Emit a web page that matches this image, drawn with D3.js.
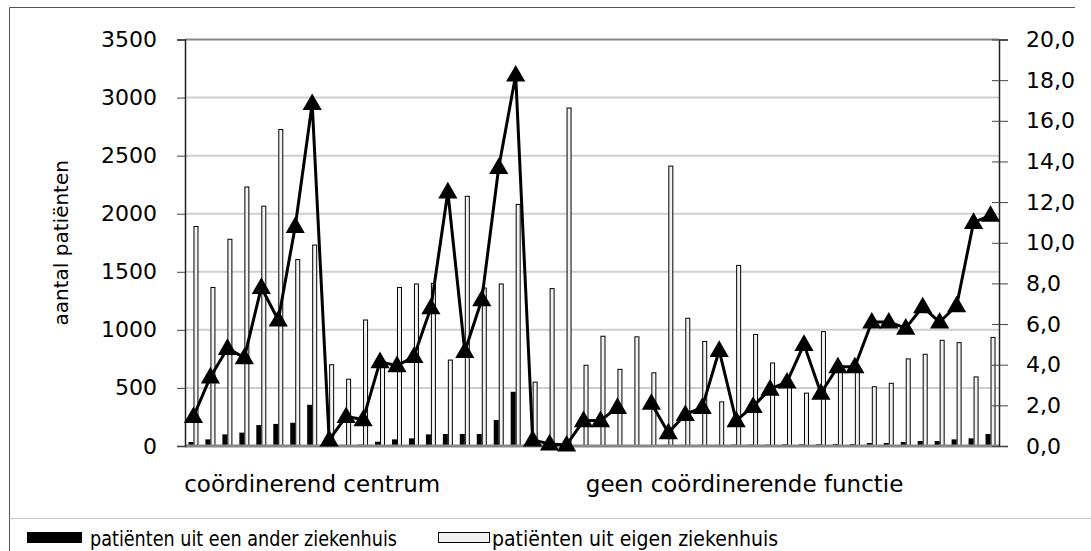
<!DOCTYPE html>
<html>
<head>
<meta charset="utf-8">
<script src="https://cdn.jsdelivr.net/npm/d3@7"></script>
<style>
  body { margin: 0; background: #fff; }
  text { font-family: "DejaVu Sans", Verdana, sans-serif; fill: #000; }
</style>
</head>
<body>
<div id="chart"></div>
<script>
// patiënten uit een ander ziekenhuis (black bars)
var ander = [34, 57, 100, 115, 180, 190, 200, 355, 5, 10, 12, 37, 57, 66, 100, 103,
  103, 103, 224, 467, 5, 3, 3, 5, 5, 8, 8, 8, 10, 10, 10, 10,
  12, 12, 12, 14, 14, 15, 17, 17, 26, 26, 34, 43, 43, 57, 66, 103];
// patiënten uit eigen ziekenhuis (white bars)
var eigen = [1890, 1365, 1780, 2230, 2065, 2725, 1605, 1730, 700, 575, 1085, 730, 1365, 1395, 1400, 740,
  2150, 1360, 1395, 2080, 550, 1355, 2910, 695, 945, 660, 940, 630, 2410, 1100, 900, 380,
  1555, 960, 715, 520, 455, 985, 680, 680, 510, 540, 750, 790, 910, 890, 595, 935];
// right axis series (triangles), null = no value
var pct = [1.45, 3.4, 4.8, 4.35, 7.8, 6.2, 10.8, 16.85, 0.3, 1.45, 1.3, 4.15, 3.95, 4.4, 6.8, 12.5,
  4.65, 7.2, 13.7, 18.25, 0.3, 0.1, 0.05, 1.25, 1.25, 1.9, null, 2.1, 0.65, 1.55, 1.9, 4.7,
  1.25, 1.95, 2.8, 3.15, 5.0, 2.6, 3.9, 3.9, 6.1, 6.1, 5.8, 6.85, 6.1, 6.9, 11.0, 11.35];

var seriesNames = ["patiënten uit een ander ziekenhuis", "patiënten uit eigen ziekenhuis"];
var groupLabels = ["coördinerend centrum", "geen coördinerende functie"];
var leftTicks = [0, 500, 1000, 1500, 2000, 2500, 3000, 3500];
var rightTicks = [0, 2, 4, 6, 8, 10, 12, 14, 16, 18, 20];
var yTitle = "aantal patiënten";

const width = 1091, height = 551;
const pLeft = 185, pRight = 999, pTop = 39.5, pBottom = 446;

const svg = d3.select("#chart").append("svg")
    .attr("width", width)
    .attr("height", height);

// outer frame
svg.append("path")
    .attr("d", "M9.5,551 V7.5 H1075")
    .attr("fill", "none")
    .attr("stroke", "#555");
svg.append("line")
    .attr("x1", 9.5).attr("x2", width)
    .attr("y1", 518.5).attr("y2", 518.5)
    .attr("stroke", "#c8c8c8");

const x = d3.scaleBand()
    .domain(d3.range(eigen.length))
    .range([pLeft, pRight])
    .paddingInner(0.41)
    .paddingOuter(0.205);

const x1 = d3.scaleBand()
    .domain([0, 1])
    .range([0, x.bandwidth()]);

const y = d3.scaleLinear().domain([0, 3500]).range([pBottom, pTop]);
const y2 = d3.scaleLinear().domain([0, 20]).range([pBottom, pTop]);

// gridlines
svg.append("g")
    .selectAll("line")
    .data(leftTicks.slice(1, -1))
    .enter().append("line")
    .attr("x1", pLeft).attr("x2", pRight)
    .attr("y1", function(d) { return y(d); })
    .attr("y2", function(d) { return y(d); })
    .attr("stroke", "#cfcfcf")
    .attr("stroke-width", 2);

// top border of plot
svg.append("line")
    .attr("x1", pLeft).attr("x2", pRight)
    .attr("y1", pTop).attr("y2", pTop)
    .attr("stroke", "#888")
    .attr("stroke-width", 2);

// bars
var groups = svg.append("g")
    .selectAll("g")
    .data(d3.range(eigen.length))
    .enter().append("g")
    .attr("transform", function(i) { return "translate(" + x(i) + ",0)"; });

groups.append("rect")
    .attr("x", x1(0))
    .attr("width", x1.bandwidth())
    .attr("y", function(i) { return y(ander[i]); })
    .attr("height", function(i) { return pBottom - y(ander[i]); })
    .attr("fill", "#000");

groups.append("rect")
    .attr("x", x1(1) + 0.5)
    .attr("width", x1.bandwidth() - 1)
    .attr("y", function(i) { return y(eigen[i]); })
    .attr("height", function(i) { return pBottom - y(eigen[i]); })
    .attr("fill", "#f2f2f2")
    .attr("stroke", "#000")
    .attr("stroke-width", 1);

// x axis baseline
svg.append("line")
    .attr("x1", pLeft).attr("x2", pRight)
    .attr("y1", pBottom).attr("y2", pBottom)
    .attr("stroke", "#888")
    .attr("stroke-width", 3);

// left axis
var leftAxis = svg.append("g")
    .attr("transform", "translate(" + pLeft + ",0)")
    .call(d3.axisLeft(y).tickValues(leftTicks).tickSize(8).tickPadding(20).tickFormat(d3.format("d")));
leftAxis.select(".domain").attr("stroke", "#222").attr("stroke-width", 1.5);
leftAxis.selectAll(".tick line").attr("stroke", "#444");
leftAxis.selectAll("text").attr("font-size", "22px").attr("font-family", "DejaVu Sans");

// right axis
var rightAxis = svg.append("g")
    .attr("transform", "translate(" + pRight + ",0)")
    .call(d3.axisRight(y2).tickValues(rightTicks).tickSize(9).tickPadding(18)
      .tickFormat(function(d) { return d3.format(".1f")(d).replace(".", ","); }));
rightAxis.select(".domain").attr("stroke", "#222").attr("stroke-width", 1.5);
rightAxis.selectAll(".tick line").attr("stroke", "#444").attr("x1", -7);
rightAxis.selectAll("text").attr("font-size", "22px").attr("font-family", "DejaVu Sans");

// line with triangles
var cx = function(i) { return x(i) + x.bandwidth() / 2; };
var line = d3.line()
    .defined(function(i) { return pct[i] !== null; })
    .x(function(i) { return cx(i); })
    .y(function(i) { return y2(pct[i]); });

svg.append("path")
    .datum(d3.range(pct.length))
    .attr("d", line)
    .attr("fill", "none")
    .attr("stroke", "#000")
    .attr("stroke-width", 3)
    .attr("stroke-linejoin", "round");

svg.append("g")
    .selectAll("path")
    .data(d3.range(pct.length).filter(function(i) { return pct[i] !== null; }))
    .enter().append("path")
    .attr("transform", function(i) { return "translate(" + cx(i) + "," + (y2(pct[i]) + 1) + ")"; })
    .attr("d", d3.symbol().type(d3.symbolTriangle).size(160))
    .attr("fill", "#000");

// y title
svg.append("text")
    .attr("transform", "translate(68," + (pTop + pBottom) / 2 + ") rotate(-90)")
    .attr("text-anchor", "middle")
    .attr("font-size", "20px")
    .text(yTitle);

// group labels under the x axis
svg.append("text")
    .attr("x", cx(7))
    .attr("y", 492)
    .attr("text-anchor", "middle")
    .attr("font-size", "23px")
    .text(groupLabels[0]);
svg.append("text")
    .attr("x", (cx(32) + cx(33)) / 2)
    .attr("y", 492)
    .attr("text-anchor", "middle")
    .attr("font-size", "23px")
    .text(groupLabels[1]);

// legend
var legend = svg.append("g");
legend.append("rect")
    .attr("x", 27).attr("y", 532)
    .attr("width", 55).attr("height", 11)
    .attr("fill", "#000");
legend.append("text")
    .attr("x", 90).attr("y", 546)
    .attr("font-size", "21px")
    .attr("textLength", 307)
    .attr("lengthAdjust", "spacingAndGlyphs")
    .text(seriesNames[0]);
legend.append("rect")
    .attr("x", 438.5).attr("y", 532.5)
    .attr("width", 51).attr("height", 10)
    .attr("fill", "#f2f2f2")
    .attr("stroke", "#000");
legend.append("text")
    .attr("x", 492).attr("y", 546)
    .attr("font-size", "21px")
    .attr("textLength", 286)
    .attr("lengthAdjust", "spacingAndGlyphs")
    .text(seriesNames[1]);
</script>
</body>
</html>
